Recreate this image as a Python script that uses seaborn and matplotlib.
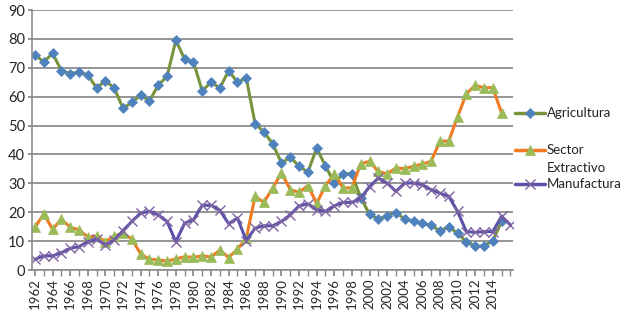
import numpy as np
import pandas as pd
import matplotlib
matplotlib.use("Agg")
import matplotlib.pyplot as plt
import seaborn as sns
from matplotlib.lines import Line2D

# Datos (porcentaje por sector)
anios = list(range(1962, 2017))

agricultura = [74.5, 72, 75, 69, 68, 68.5, 67.5, 63, 65.5, 63,
               56, 58, 60.5, 58.5, 64, 67, 79.5, 73, 72, 62,
               65, 63, 69, 65, 66.5, 50.7, 47.8, 43.7, 37, 39.1,
               35.9, 33.9, 42.2, 36, 30.1, 33.3, 33.3, 25, 19.3, 17.6,
               18.8, 19.9, 17.6, 17, 16.2, 15.5, 13.5, 15, 12.7, 9.8,
               8.3, 8.3, 10.1, 16.8, np.nan]

extractivo = [14.8, 19.4, 14.1, 17.6, 14.8, 13.9, 11.4, 11.8, 9.8, 11.8,
              12.7, 10.7, 5.6, 3.7, 3.5, 3.1, 3.8, 4.6, 4.4, 4.9,
              4.5, 6.9, 4.3, 7.2, 11, 25.5, 23.4, 28.4, 33.6, 27.8,
              26.9, 29.2, 23.1, 29.2, 33.3, 28.4, 28.4, 36.8, 37.6, 34.1,
              33.3, 35.3, 35.1, 35.9, 36.7, 37.6, 44.6, 44.6, 53, 61,
              63.9, 63.1, 63.1, 54.4, np.nan]

manufactura = [3.7, 4.9, 4.9, 6, 7.5, 8.1, 9.8, 10.6, 8.7, 10.4,
               13.6, 16.8, 19.7, 20.3, 19.1, 16.8, 9.8, 16.2, 17.4, 22.4,
               22.4, 20.7, 16, 18, 10.2, 14.5, 15.3, 15.3, 16.8, 19.1,
               22.2, 22.9, 20.8, 20.3, 22.2, 23.4, 23.4, 24.8, 28.9, 31.8,
               30.1, 27.2, 30.1, 30.1, 29.5, 27.8, 26.6, 25.5, 20.3, 13.3,
               13, 13.3, 13.3, 18.6, 15.6]

df = pd.DataFrame({"anio": anios, "Agricultura": agricultura,
                   "Sector Extractivo": extractivo, "Manufactura": manufactura})

sns.set_theme(style="white")
plt.rcParams["font.family"] = ["Lato", "DejaVu Sans"]

fig = plt.figure(figsize=(6.24, 3.16), dpi=100)
ax = fig.add_axes([32 / 624, 1 - 270 / 316, (513 - 32) / 624, 260 / 316])

# (columna, texto leyenda, color línea, marcador, color marcador, tamaño, y leyenda px)
estilos = [
    ("Agricultura", "Agricultura", "#77933C", "D", "#4F81BD", 5.5, 113),
    ("Sector Extractivo", "Sector\nExtractivo", "#F07B22", "^", "#9BBB59", 7, 150),
    ("Manufactura", "Manufactura", "#5A52A8", "x", "#8064A2", 7, 184),
]

for col, etiqueta, c_linea, marca, c_marca, ms, y_ley in estilos:
    sns.lineplot(data=df, x="anio", y=col, ax=ax, color=c_linea, linewidth=2.2,
                 marker=marca, markersize=ms, markerfacecolor=c_marca,
                 markeredgecolor=c_marca, markeredgewidth=1.0 if marca == "x" else 0.5)
    # leyenda manual a la derecha, como en Excel
    yf = 1 - y_ley / 316
    fig.add_artist(Line2D([515 / 624, 545 / 624], [yf, yf], color=c_linea, linewidth=2.5,
                          transform=fig.transFigure))
    fig.add_artist(Line2D([530 / 624], [yf], marker=marca, markersize=ms, linestyle="",
                          markerfacecolor=c_marca, markeredgecolor=c_marca,
                          markeredgewidth=1.0 if marca == "x" else 0.5,
                          transform=fig.transFigure))
    fig.text(547 / 624, yf + 6 / 316, etiqueta, ha="left", va="top", fontsize=9.5,
             color="#222222", linespacing=1.55)

ax.set_ylim(0, 90)
ax.set_yticks(range(0, 91, 10))
ax.set_xlim(1961.66, 2016.3)
ax.set_xticks(range(1962, 2015, 2))
ax.set_xticklabels([str(a) for a in range(1962, 2015, 2)], rotation=90, fontsize=9.5)
ax.set_xticks(range(1962, 2017), minor=True)
ax.tick_params(axis="y", labelsize=10.5, length=3, color="#888888", pad=2, left=True)
ax.tick_params(axis="x", which="both", length=4, color="#888888", pad=2, bottom=True)
ax.set_xlabel("")
ax.set_ylabel("")

ax.yaxis.grid(True, color="#8C8C8C", linewidth=1.3)
ax.xaxis.grid(False)
ax.set_axisbelow(True)
for lado in ["top", "right"]:
    ax.spines[lado].set_visible(False)
ax.spines["left"].set_color("#8C8C8C")
ax.spines["bottom"].set_color("#8C8C8C")
ax.spines["left"].set_linewidth(1.2)
ax.spines["bottom"].set_linewidth(1.2)

fig.savefig("out.png", dpi=100)
